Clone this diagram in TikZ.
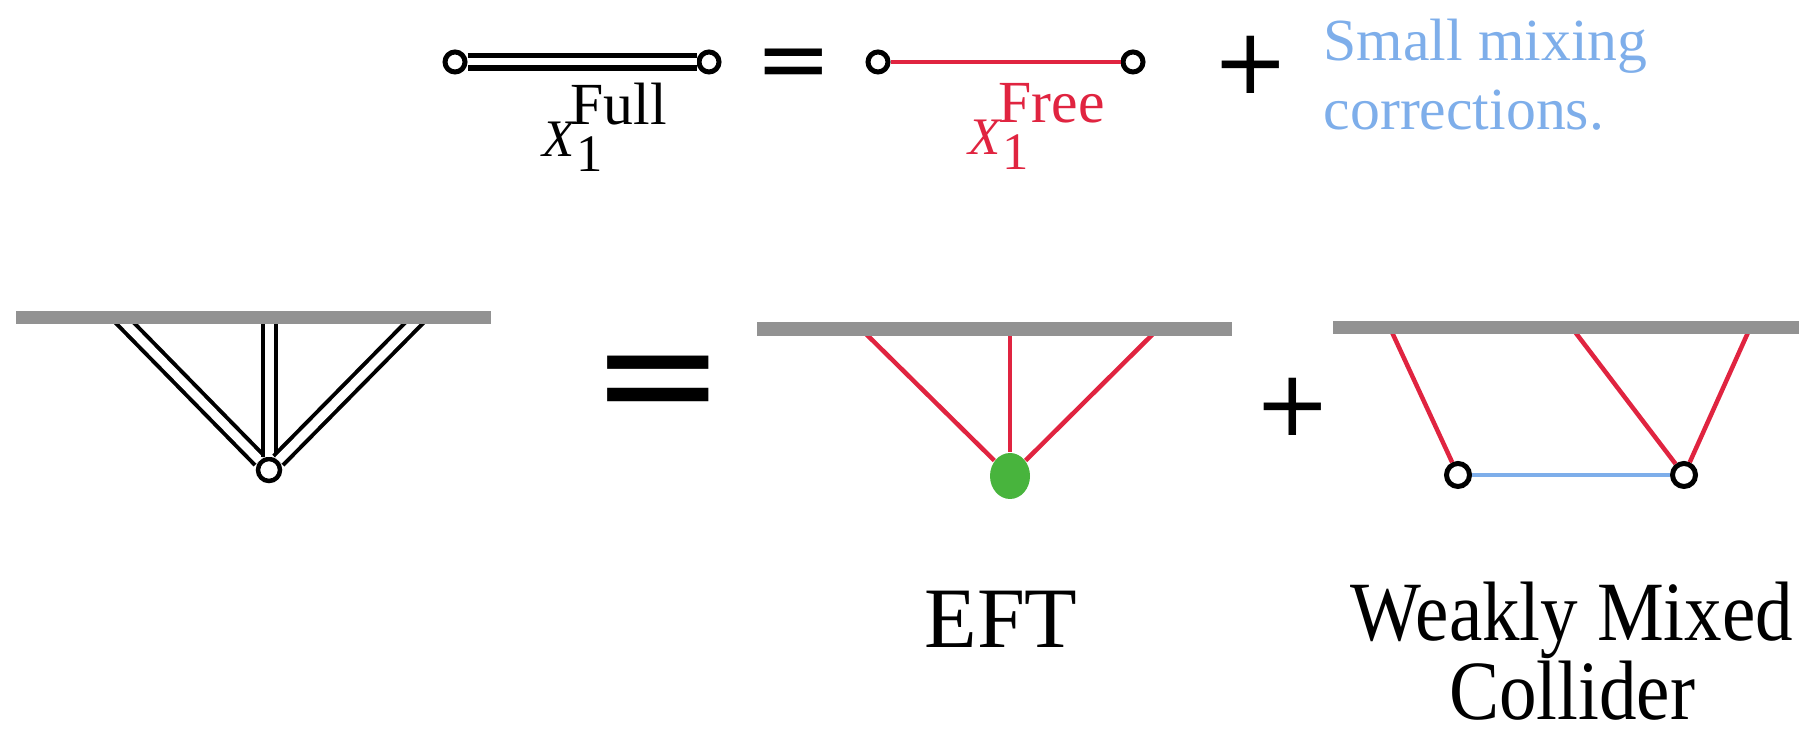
\documentclass[tikz,border=0pt]{standalone}
\usepackage{fontspec}
\setmainfont{Liberation Serif}
\newfontfamily\symfont{DejaVu Sans}
\usepackage{graphicx}
\usepackage{tikz}
\usetikzlibrary{positioning,shapes.geometric}
\definecolor{freered}{RGB}{224,36,64}
\definecolor{mixblue}{RGB}{126,174,234}
\definecolor{eftgreen}{RGB}{72,180,61}
\definecolor{bdygray}{RGB}{146,146,146}

\begin{document}
\begin{tikzpicture}[x=1cm,y=1cm,
  bdy/.style={bdygray,line width=0.13cm},
  fullprop/.style={draw=black,double=white,line width=0.04cm,double distance=0.09cm},
  freeprop/.style={freered,line width=0.045cm},
  mixprop/.style={mixblue,line width=0.045cm},
  vtx/.style={circle,draw=black,fill=white,line width=0.05cm,inner sep=0pt,minimum size=0.22cm},
  sym/.style={inner sep=0pt,font=\symfont\fontsize{26}{26}\selectfont}]
  \useasboundingbox (0,0) rectangle (17.99,7.34);

  % top row: full propagator = free propagator + corrections
  \node[vtx,minimum size=0.2cm] (fullL) at (4.55,6.72) {};
  \node[vtx,minimum size=0.2cm] (fullR) at (7.09,6.72) {};
  \draw[fullprop,line width=0.055cm,double distance=0.07cm] (fullL) -- (fullR);
  \node[anchor=base west,inner sep=0pt,font=\fontsize{15}{18}\selectfont] (fulllab) at (5.42,5.77)
    {\textit{X}\rlap{\raisebox{-0.15cm}{1}}\kern-0.06cm\raisebox{0.32cm}{\fontsize{17}{18}\selectfont Full}};
  \node[sym] (eqtop) at (7.94,6.64) {=};
  \node[vtx,minimum size=0.2cm] (freeL) at (8.78,6.72) {};
  \node[vtx,minimum size=0.2cm] (freeR) at (11.33,6.72) {};
  \draw[freeprop] (freeL) -- (freeR);
  \node[anchor=base west,inner sep=0pt,freered,font=\fontsize{15}{18}\selectfont] (freelab) at (9.68,5.79)
    {\textit{X}\rlap{\raisebox{-0.15cm}{1}}\kern-0.04cm\raisebox{0.32cm}{\fontsize{17}{18}\selectfont Free}};
  \node[sym] (plustop) at (12.51,6.69) {+};
  \node[anchor=base west,inner sep=0pt,align=left,mixblue,font=\fontsize{17}{19.9}\selectfont] (mixnote)
    at (13.23,6.04) {Small mixing\\corrections.};

  % full three-point diagram
  \node[vtx,line width=0.045cm] (v) at (2.69,2.64) {};
  \coordinate (a1) at (1.20,4.16);
  \coordinate (a2) at (2.69,4.16);
  \coordinate (a3) at (4.19,4.16);
  \foreach \i in {1,2,3}
    \draw[fullprop] (a\i) -- (v);
  \draw[bdy] (0.16,4.16) -- (4.91,4.16);
  \node[sym,font=\symfont\fontsize{46}{46}\selectfont] (eqbot) at (6.58,3.41) {=};

  % EFT contact diagram
  \node[ellipse,fill=eftgreen,inner sep=0pt,minimum width=0.40cm,minimum height=0.46cm] (c) at (10.10,2.58) {};
  \coordinate (b1) at (8.61,4.05);
  \coordinate (b2) at (10.10,4.05);
  \coordinate (b3) at (11.58,4.05);
  \foreach \i in {1,2,3}
    \draw[freeprop] (b\i) -- (c);
  \draw[bdy,line width=0.14cm] (7.57,4.05) -- (12.32,4.05);
  \node[sym] (plusbot) at (12.93,3.27) {+};

  % weakly mixed exchange diagram
  \node[vtx,minimum size=0.23cm] (w1) at (14.58,2.59) {};
  \node[vtx,minimum size=0.23cm] (w2) at (16.84,2.59) {};
  \coordinate (d1) at (13.90,4.06);
  \coordinate (d2) at (15.72,4.06);
  \coordinate (d3) at (17.50,4.06);
  \draw[freeprop] (d1) -- (w1);
  \draw[freeprop] (d2) -- (w2);
  \draw[freeprop] (d3) -- (w2);
  \draw[mixprop] (w1) -- (w2);
  \draw[bdy] (13.33,4.06) -- (17.99,4.06);

  % labels
  \node[anchor=base,inner sep=0pt,font=\fontsize{24.5}{24}\selectfont] (eftlab) at (10.01,0.86) {EFT};
  \node[anchor=base,inner sep=0pt,align=center,font=\fontsize{24}{22.5}\selectfont] (wmclab) at (15.72,0.14)
    {\scalebox{0.89}[1]{Weakly Mixed}\\\scalebox{0.89}[1]{Collider}};
\end{tikzpicture}
\end{document}
